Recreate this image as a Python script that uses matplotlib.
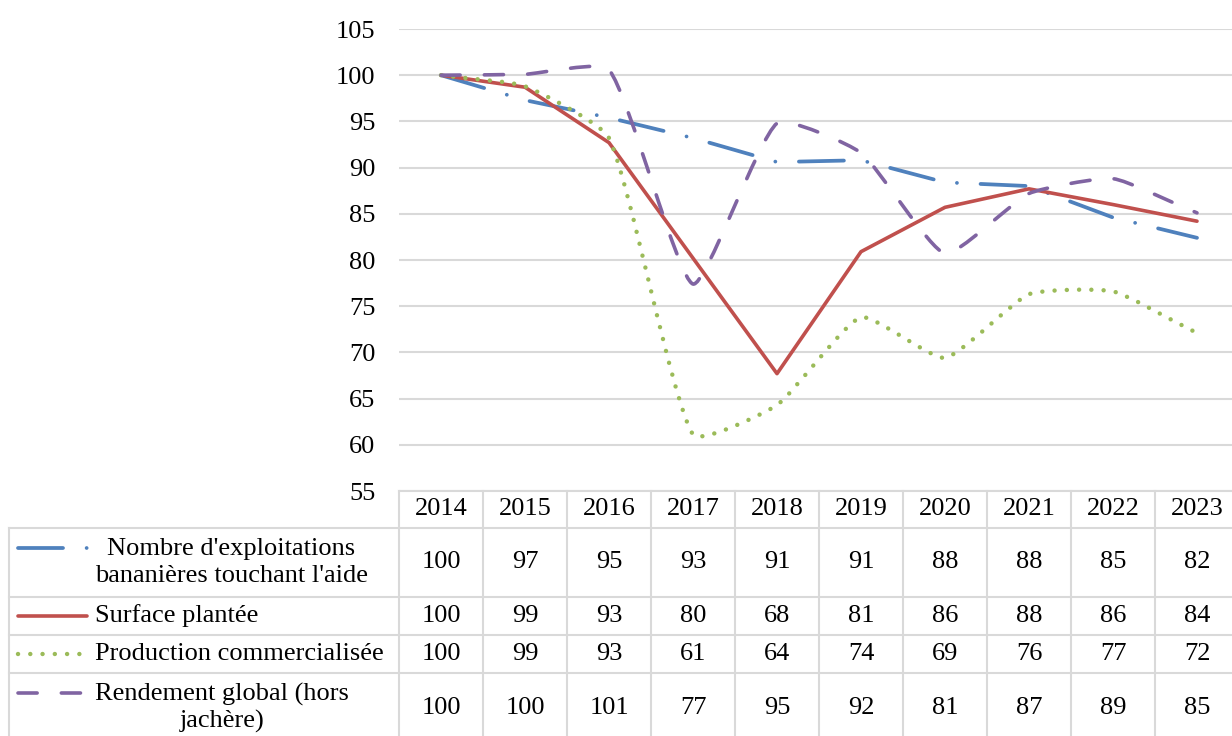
import numpy as np
import matplotlib
matplotlib.use('Agg')
import matplotlib.pyplot as plt
from matplotlib.path import Path
from matplotlib.patches import PathPatch
from matplotlib.lines import Line2D
import matplotlib.transforms as mtransforms

plt.rcParams['font.family'] = ['Liberation Serif', 'DejaVu Serif']

years = ['2014', '2015', '2016', '2017', '2018', '2019', '2020', '2021', '2022', '2023']
exploitations = [100, 97.3, 95.4, 93.2, 90.6, 90.8, 88.4, 88.0, 84.6, 82.4]
surface = [100, 98.7, 92.7, 80.2, 67.7, 80.9, 85.7, 87.7, 86.0, 84.2]
production = [100, 98.8, 93.2, 61.1, 64.3, 73.8, 69.4, 76.3, 76.6, 72.1]
rendement = [100, 100.1, 100.6, 77.4, 94.8, 91.6, 80.7, 87.2, 88.8, 85.1]

labels = ["Nombre d'exploitations\nbananières touchant l'aide",
          "Surface plantée",
          "Production commercialisée",
          "Rendement global (hors\njachère)"]
colors = ['#4F81BD', '#C0504D', '#9BBB59', '#8064A2']
styles = [(0, (12, 6.3, 0.01, 6.3)), '-', (0, (0.01, 2.75)), (0, (5.3, 6.7))]
widths = [2.7, 2.6, 3.2, 2.6]
smooth = [False, False, True, True]
series = [exploitations, surface, production, rendement]

W, H = 1232, 736
FS = 19
grid_col = '#d9d9d9'
TENSION = 0.5


def fx(x):
    return x / W


def fy(y):
    return 1 - y / H


def smooth_path(ax, xs, ys):
    # excel-like smoothed line, control points worked out in screen space
    pts = ax.transData.transform(np.column_stack([xs, ys]).astype(float))
    n = len(pts)
    verts = [pts[0]]
    codes = [Path.MOVETO]
    for i in range(n - 1):
        p0 = pts[max(i - 1, 0)]
        p1 = pts[i]
        p2 = pts[i + 1]
        p3 = pts[min(i + 2, n - 1)]
        d01 = np.hypot(*(p1 - p0))
        d12 = np.hypot(*(p2 - p1))
        d23 = np.hypot(*(p3 - p2))
        if d01 > 0:
            c1 = p1 + TENSION * (p2 - p0) * d12 / (d01 + d12) / 3
        else:
            c1 = p1 + (p2 - p1) / 3
        if d23 > 0:
            c2 = p2 - TENSION * (p3 - p1) * d12 / (d12 + d23) / 3
        else:
            c2 = p2 - (p2 - p1) / 3
        verts += [c1, c2, p2]
        codes += [Path.CURVE4] * 3
    verts = ax.transData.inverted().transform(np.array(verts))
    return Path(verts, codes)


fig = plt.figure(figsize=(W / 100, H / 100), dpi=100)
ax = fig.add_axes([fx(399), fy(491), 840 / W, (491 - 29) / H])
x = np.arange(len(years))
ax.set_xlim(-0.5, len(years) - 0.5)
ax.set_ylim(55, 105)

for vals, col, ls, lw, sm in zip(series, colors, styles, widths, smooth):
    if sm:
        patch = PathPatch(smooth_path(ax, x, vals), fill=False, edgecolor=col, lw=lw,
                          linestyle=ls, capstyle='round', joinstyle='round', zorder=3)
        ax.add_patch(patch)
    else:
        ax.plot(x, vals, color=col, lw=lw, linestyle=ls, dash_capstyle='round',
                solid_capstyle='round', zorder=3)

ax.set_yticks(np.arange(55, 106, 5))
ax.set_xticks([])
ax.grid(axis='y', color=grid_col, lw=1.5)
ax.set_axisbelow(True)
for s in ax.spines.values():
    s.set_visible(False)
ax.tick_params(axis='y', length=0, pad=17, labelsize=FS)

# data table under the chart
bt = mtransforms.blended_transform_factory(ax.transData, fig.transFigure)
row_edges = [528, 597, 635, 673, 745]
for i in range(len(years) + 1):
    fig.add_artist(Line2D([i - 0.5, i - 0.5], [fy(491), fy(745)], transform=bt,
                          color=grid_col, lw=1.5, clip_on=False))
fig.add_artist(Line2D([fx(399), fx(W)], [fy(491), fy(491)], color=grid_col, lw=1.5))
for yy in row_edges[:-1]:
    fig.add_artist(Line2D([fx(9), fx(W)], [fy(yy), fy(yy)], color=grid_col, lw=1.5))
fig.add_artist(Line2D([fx(9), fx(9)], [fy(528), fy(745)], color=grid_col, lw=1.5))

for i, yr in enumerate(years):
    fig.text(i, fy(509), yr, transform=bt, ha='center', va='center', fontsize=FS)

for r, (vals, col, ls, lw, lab) in enumerate(zip(series, colors, styles, widths, labels)):
    top, bot = row_edges[r], row_edges[r + 1]
    yc = (top + bot) / 2
    if r == 3:
        yc = 708
    for i, v in enumerate(vals):
        fig.text(i, fy(yc), f'{v:.0f}', transform=bt, ha='center', va='center', fontsize=FS)
    fig.text(fx(95), fy(yc), lab, ha='left', va='center', fontsize=FS,
             multialignment='center', linespacing=1.26)
    ysample = yc - 15 if '\n' in lab else yc
    fig.add_artist(Line2D([fx(18), fx(87)], [fy(ysample), fy(ysample)], color=col,
                          lw=lw, linestyle=ls, dash_capstyle='round', solid_capstyle='round'))

fig.savefig('out.png', dpi=100)
